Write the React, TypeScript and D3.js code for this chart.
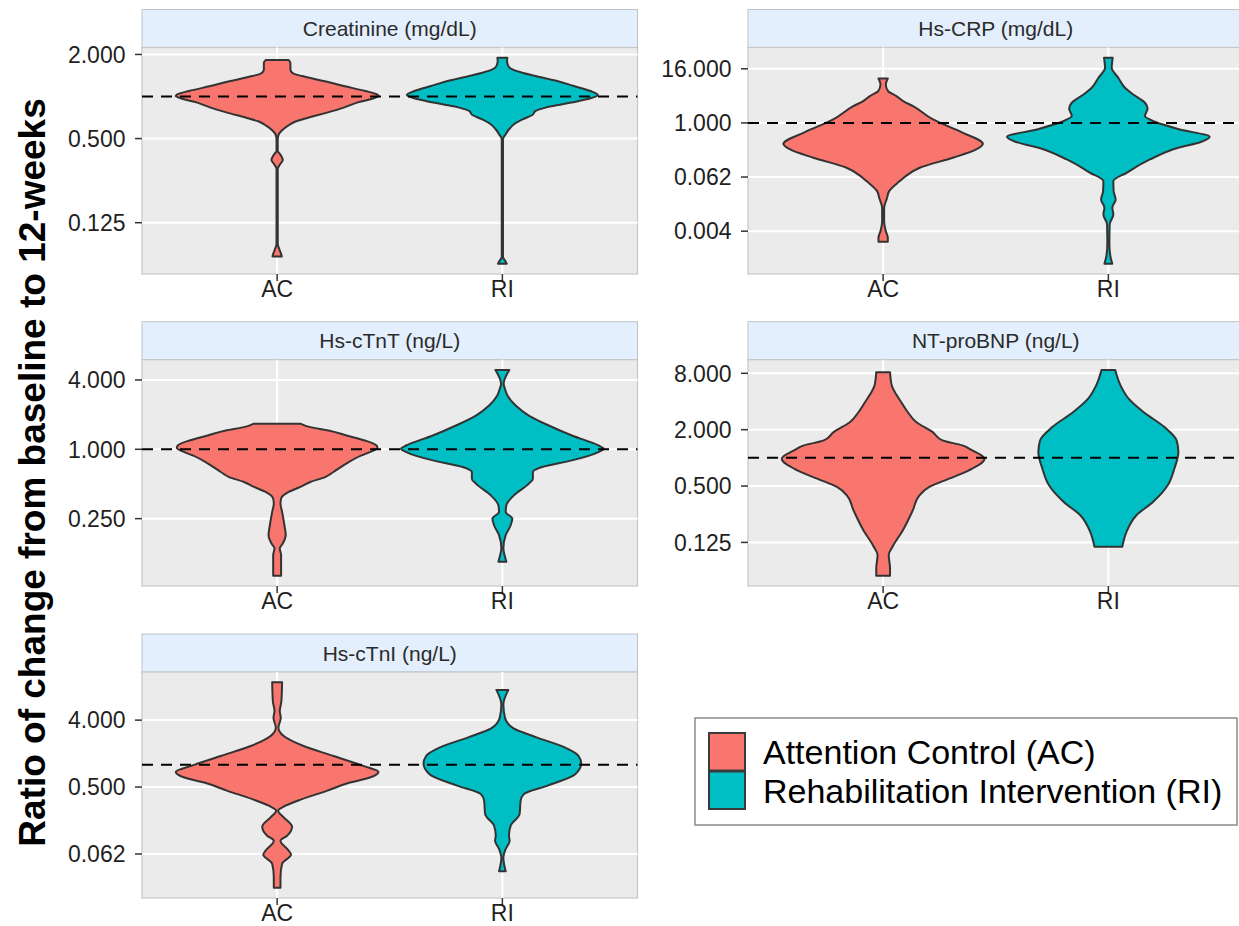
import React from "react";
import * as d3 from "d3";

type Pt = [number, number]; // [ratio value, relative half-width of the violin]

const groups = ["AC", "RI"];
const groupNames = ["Attention Control (AC)", "Rehabilitation Intervention (RI)"];
const groupFills = ["#F8766D", "#00BFC4"];

const panelTitles = [
  "Creatinine (mg/dL)",
  "Hs-CRP (mg/dL)",
  "Hs-cTnT (ng/L)",
  "NT-proBNP (ng/L)",
  "Hs-cTnI (ng/L)",
];

const yTitle = "Ratio of change from baseline to 12-weeks";
const referenceRatio = 1;

// tick values and labels
const creatinineTicks = [0.125, 0.5, 2];
const creatinineTickLabels = ["0.125", "0.500", "2.000"];
const crpTicks = [0.00390625, 0.0625, 1, 16];
const crpTickLabels = ["0.004", "0.062", "1.000", "16.000"];
const tntTicks = [0.25, 1, 4];
const tntTickLabels = ["0.250", "1.000", "4.000"];
const bnpTicks = [0.125, 0.5, 2, 8];
const bnpTickLabels = ["0.125", "0.500", "2.000", "8.000"];
const tniTicks = [0.0625, 0.5, 4];
const tniTickLabels = ["0.062", "0.500", "4.000"];

// violin density profiles
const creatinineAC: Pt[] = [
  [1.823, 0.112], [1.744, 0.131], [1.563, 0.131], [1.456, 0.164], [1.401, 0.246],
  [1.291, 0.46], [1.189, 0.657], [1.095, 0.87], [1.037, 0.985], [1.009, 1.0],
  [0.971, 0.952], [0.904, 0.788], [0.833, 0.657], [0.767, 0.493], [0.707, 0.312],
  [0.662, 0.181], [0.616, 0.105], [0.574, 0.049], [0.537, 0.016], [0.495, 0.006],
  [0.409, 0.006], [0.383, 0.033], [0.352, 0.056], [0.325, 0.026], [0.303, 0.006],
  [0.0881, 0.006], [0.0813, 0.02], [0.0748, 0.039], [0.0716, 0.046],
];
const creatinineRI: Pt[] = [
  [1.893, 0.049], [1.793, 0.046], [1.651, 0.059], [1.563, 0.099], [1.48, 0.197],
  [1.401, 0.328], [1.291, 0.542], [1.189, 0.706], [1.095, 0.87], [1.025, 0.943],
  [0.971, 0.87], [0.929, 0.755], [0.88, 0.591], [0.833, 0.427], [0.788, 0.328],
  [0.738, 0.296], [0.688, 0.204], [0.633, 0.115], [0.583, 0.066], [0.537, 0.033],
  [0.495, 0.006], [0.0709, 0.006], [0.067, 0.026], [0.0636, 0.043],
];
const crpAC: Pt[] = [
  [9.75, 0.046], [7.17, 0.026], [5.1, 0.049], [3.95, 0.131], [3.05, 0.197],
  [2.36, 0.295], [1.194, 0.492], [0.603, 0.787], [0.343, 0.984], [0.257, 0.918],
  [0.168, 0.689], [0.1004, 0.361], [0.0657, 0.223], [0.0508, 0.164], [0.0304, 0.059],
  [0.0216, 0.039], [0.013, 0.01], [0.00653, 0.01], [0.00392, 0.026], [0.00278, 0.046],
  [0.00227, 0.046],
];
const crpRI: Pt[] = [
  [28.1, 0.043], [16.84, 0.033], [10.09, 0.098], [6.05, 0.164], [4.3, 0.246],
  [2.81, 0.361], [2.1, 0.387], [1.417, 0.361], [1.06, 0.459], [0.716, 0.705],
  [0.491, 1.0], [0.381, 0.918], [0.28, 0.689], [0.154, 0.41], [0.0777, 0.18],
  [0.0508, 0.049], [0.0304, 0.052], [0.0199, 0.072], [0.013, 0.039], [0.0092, 0.049],
  [0.00552, 0.013], [0.00198, 0.01], [0.001003, 0.023], [0.000738, 0.039],
];
const tntAC: Pt[] = [
  [1.663, 0.235], [1.557, 0.327], [1.457, 0.507], [1.318, 0.686], [1.193, 0.866],
  [1.08, 0.98], [1.024, 0.99], [0.946, 0.915], [0.885, 0.833], [0.725, 0.654],
  [0.635, 0.556], [0.574, 0.474], [0.52, 0.327], [0.471, 0.229], [0.426, 0.114],
  [0.373, 0.039], [0.338, 0.033], [0.286, 0.049], [0.219, 0.072], [0.18, 0.085],
  [0.152, 0.056], [0.138, 0.026], [0.1207, 0.039], [0.0988, 0.039], [0.0799, 0.039],
];
const tntRI: Pt[] = [
  [4.88, 0.069], [4.51, 0.046], [4.08, 0.023], [3.69, 0.013], [3.34, 0.026],
  [2.93, 0.05], [2.4, 0.131], [1.964, 0.261], [1.609, 0.458], [1.318, 0.686],
  [1.08, 0.948], [1.011, 1.0], [0.946, 0.948], [0.801, 0.686], [0.701, 0.392],
  [0.635, 0.301], [0.556, 0.301], [0.503, 0.261], [0.398, 0.114], [0.326, 0.039],
  [0.286, 0.033], [0.25, 0.098], [0.219, 0.082], [0.18, 0.033], [0.138, 0.01],
  [0.1167, 0.026], [0.1054, 0.039],
];
const bnpAC: Pt[] = [
  [8.2, 0.068], [5.91, 0.085], [4.74, 0.13], [3.93, 0.179], [3.07, 0.244],
  [2.41, 0.326], [1.883, 0.489], [1.535, 0.586], [1.358, 0.782], [1.201, 0.879],
  [0.979, 1.0], [0.736, 0.847], [0.6, 0.651], [0.489, 0.456], [0.398, 0.358],
  [0.276, 0.293], [0.169, 0.195], [0.115, 0.098], [0.0915, 0.055], [0.066, 0.068],
  [0.0551, 0.068],
];
const bnpRI: Pt[] = [
  [8.68, 0.068], [5.91, 0.121], [4.26, 0.202], [3.07, 0.349], [2.13, 0.554],
  [1.535, 0.674], [1.153, 0.691], [0.766, 0.651], [0.509, 0.586], [0.338, 0.44],
  [0.244, 0.277], [0.162, 0.179], [0.1122, 0.137],
];
const tniAC: Pt[] = [
  [12.96, 0.049], [7.2, 0.042], [5.29, 0.026], [4.3, 0.036], [3.16, 0.013],
  [2.44, 0.065], [1.788, 0.261], [1.313, 0.556], [0.964, 0.85], [0.8, 1.0],
  [0.672, 0.915], [0.575, 0.719], [0.444, 0.49], [0.343, 0.245], [0.28, 0.082],
  [0.2397, 0.01], [0.195, 0.065], [0.146, 0.147], [0.1104, 0.098], [0.0946, 0.033],
  [0.0694, 0.114], [0.0614, 0.137], [0.046, 0.049], [0.0304, 0.033], [0.0219, 0.033],
];
const tniRI: Pt[] = [
  [10.22, 0.059], [6.49, 0.01], [4.3, 0.026], [3.09, 0.11], [2.36, 0.33],
  [1.699, 0.621], [1.313, 0.752], [1.036, 0.778], [0.745, 0.719], [0.519, 0.441],
  [0.401, 0.212], [0.326, 0.18], [0.216, 0.17], [0.151, 0.082], [0.1104, 0.065],
  [0.0946, 0.072], [0.0731, 0.033], [0.0553, 0.01], [0.0366, 0.033],
];

// ---- layout ----
const FONT = "'Liberation Sans', Arial, Helvetica, sans-serif";
const COLS: [number, number][] = [[142, 637.5], [748, 1243.5]];
const ROWS = [
  { strip: 9.5, top: 47.5, bottom: 274 },
  { strip: 321.7, top: 359.7, bottom: 586 },
  { strip: 634, top: 672, bottom: 898 },
];

interface PanelDef {
  title: string;
  series: Pt[][];
  ticks: number[];
  tickLabels: string[];
  col: number;
  row: number;
}

function Panel({ p }: { p: PanelDef }) {
  const [x0, x1] = COLS[p.col];
  const r = ROWS[p.row];
  const values = p.series.flat().map((d) => d[0]);
  const lmin = Math.log2(d3.min(values) as number);
  const lmax = Math.log2(d3.max(values) as number);
  const pad = (lmax - lmin) * 0.05;
  const y = d3
    .scaleLog()
    .base(2)
    .domain([Math.pow(2, lmin - pad), Math.pow(2, lmax + pad)])
    .range([r.bottom, r.top]);
  const x = d3.scalePoint<string>().domain(groups).range([x0, x1]).padding(0.6);
  const half = x.step() * 0.45;

  return (
    <g>
      {/* strip */}
      <rect x={x0} y={r.strip} width={x1 - x0} height={r.top - r.strip} fill="#E3EFFC" stroke="#BFC3C8" strokeWidth={1} />
      <text
        x={(x0 + x1) / 2}
        y={(r.strip + r.top) / 2}
        dy="0.36em"
        textAnchor="middle"
        fontFamily={FONT}
        fontSize={21}
        fill="#2B2B2B"
      >
        {p.title}
      </text>
      {/* panel background */}
      <rect x={x0} y={r.top} width={x1 - x0} height={r.bottom - r.top} fill="#EBEBEB" stroke="#C6C6C6" strokeWidth={1.2} />
      {p.ticks.map((t, i) => (
        <line key={"gy" + i} x1={x0} x2={x1} y1={y(t)} y2={y(t)} stroke="#FFFFFF" strokeWidth={2} />
      ))}
      {groups.map((g) => (
        <line key={"gx" + g} x1={x(g)} x2={x(g)} y1={r.top} y2={r.bottom} stroke="#FFFFFF" strokeWidth={2} />
      ))}
      {/* violins */}
      {p.series.map((s, i) => {
        const cx = x(groups[i]) as number;
        const sorted = [...s].sort((a, b) => b[0] - a[0]);
        const area = d3
          .area<Pt>()
          .y((d) => y(d[0]))
          .x0((d) => cx - d[1] * half)
          .x1((d) => cx + d[1] * half)
          .curve(d3.curveMonotoneY);
        return (
          <path
            key={"v" + i}
            d={area(sorted) || ""}
            fill={groupFills[i]}
            stroke="#333333"
            strokeWidth={2}
            strokeLinejoin="round"
          />
        );
      })}
      {/* reference line */}
      <line
        x1={x0}
        x2={x1}
        y1={y(referenceRatio)}
        y2={y(referenceRatio)}
        stroke="#000000"
        strokeWidth={2}
        strokeDasharray="11,8"
      />
      {/* y axis */}
      {p.ticks.map((t, i) => (
        <g key={"ty" + i}>
          <line x1={x0 - 7} x2={x0} y1={y(t)} y2={y(t)} stroke="#333333" strokeWidth={1.5} />
          <text
            x={x0 - 16.5}
            y={y(t)}
            dy="0.36em"
            textAnchor="end"
            fontFamily={FONT}
            fontSize={23}
            fill="#1F1F1F"
          >
            {p.tickLabels[i]}
          </text>
        </g>
      ))}
      {/* x axis */}
      {groups.map((g) => (
        <g key={"tx" + g}>
          <line x1={x(g)} x2={x(g)} y1={r.bottom} y2={r.bottom + 7} stroke="#333333" strokeWidth={1.5} />
          <text
            x={x(g)}
            y={r.bottom + 22.5}
            textAnchor="middle"
            fontFamily={FONT}
            fontSize={23}
            fill="#1F1F1F"
          >
            {g}
          </text>
        </g>
      ))}
    </g>
  );
}

export default function App() {
  const panels: PanelDef[] = [
    { title: panelTitles[0], series: [creatinineAC, creatinineRI], ticks: creatinineTicks, tickLabels: creatinineTickLabels, col: 0, row: 0 },
    { title: panelTitles[1], series: [crpAC, crpRI], ticks: crpTicks, tickLabels: crpTickLabels, col: 1, row: 0 },
    { title: panelTitles[2], series: [tntAC, tntRI], ticks: tntTicks, tickLabels: tntTickLabels, col: 0, row: 1 },
    { title: panelTitles[3], series: [bnpAC, bnpRI], ticks: bnpTicks, tickLabels: bnpTickLabels, col: 1, row: 1 },
    { title: panelTitles[4], series: [tniAC, tniRI], ticks: tniTicks, tickLabels: tniTickLabels, col: 0, row: 2 },
  ];

  const legend = { x: 695, y: 718, w: 542, h: 107, keyX: 709, keyY: 733, keyW: 36, keyH: 38.5, textX: 763 };

  return (
    <svg
      width={1239}
      height={926}
      viewBox="0 0 1239 926"
      style={{ position: "absolute", left: 0, top: 0, background: "#FFFFFF" }}
    >
      <rect x={0} y={0} width={1239} height={926} fill="#FFFFFF" />
      {panels.map((p, i) => (
        <Panel key={i} p={p} />
      ))}
      {/* y title */}
      <text
        transform="translate(45,472.5) rotate(-90)"
        textAnchor="middle"
        fontFamily={FONT}
        fontWeight="bold"
        fontSize={37}
        fill="#000000"
      >
        {yTitle}
      </text>
      {/* legend */}
      <rect x={legend.x} y={legend.y} width={legend.w} height={legend.h} fill="#FFFFFF" stroke="#8A8A8A" strokeWidth={1.5} />
      {groupNames.map((name, i) => (
        <g key={name}>
          <rect
            x={legend.keyX}
            y={legend.keyY + i * legend.keyH}
            width={legend.keyW}
            height={legend.keyH - 1}
            fill={groupFills[i]}
            stroke="#3A3A3A"
            strokeWidth={2}
          />
          <text
            x={legend.textX}
            y={legend.keyY + i * legend.keyH + legend.keyH / 2}
            dy="0.36em"
            fontFamily={FONT}
            fontSize={34}
            fill="#000000"
          >
            {name}
          </text>
        </g>
      ))}
    </svg>
  );
}
